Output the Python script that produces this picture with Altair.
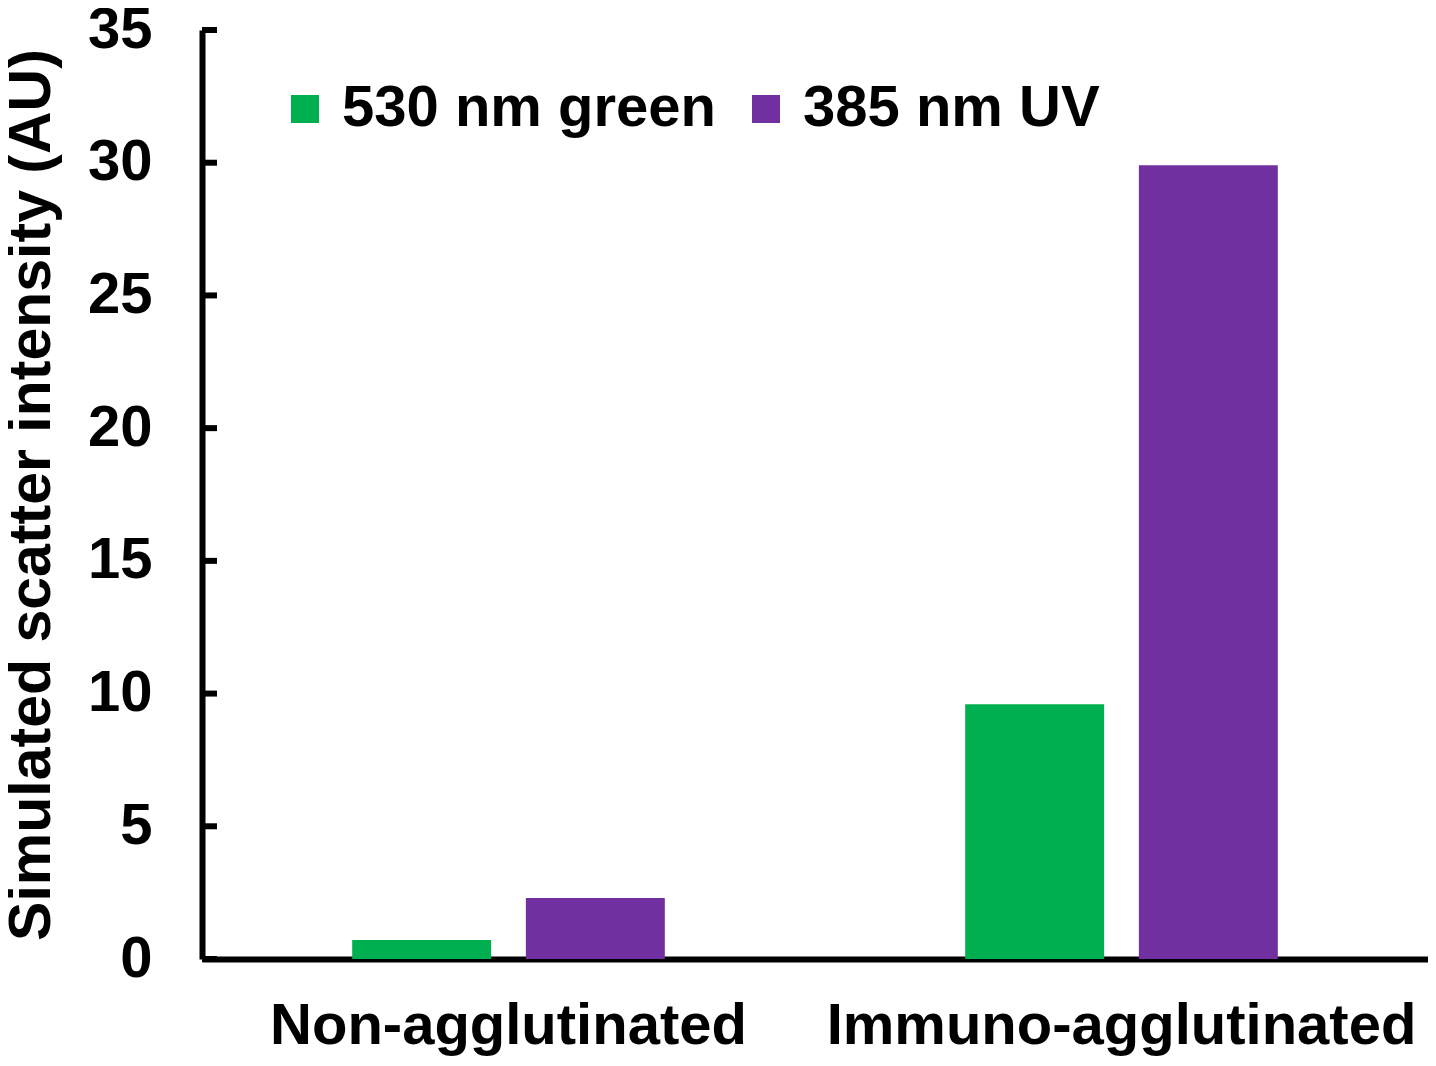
import altair as alt
import pandas as pd

categories = ["Non-agglutinated", "Immuno-agglutinated"]
series = ["530 nm green", "385 nm UV"]
green_values = [0.72, 9.6]
uv_values = [2.3, 29.9]
tick_values = [0, 5, 10, 15, 20, 25, 30, 35]
colors = ["#00B050", "#7030A0"]

rows = []
for i, c in enumerate(categories):
    rows.append({"category": c, "series": series[0], "value": green_values[i]})
    rows.append({"category": c, "series": series[1], "value": uv_values[i]})
df = pd.DataFrame(rows)
ticks_df = pd.DataFrame({"v": tick_values})

FONT = "Liberation Sans"

yscale = alt.Scale(domain=[0, 35], nice=False)

bars = alt.Chart(df).mark_bar().encode(
    x=alt.X("category:N", sort=categories,
            scale=alt.Scale(paddingInner=0.49, paddingOuter=0.245),
            axis=alt.Axis(title=None, labelAngle=0, ticks=False, domain=True,
                          domainColor="black", domainWidth=6, labelLimit=0,
                          labelFont=FONT, labelFontSize=58, labelFontWeight="bold",
                          labelColor="black", labelPadding=38)),
    xOffset=alt.XOffset("series:N", sort=series,
                        scale=alt.Scale(paddingInner=0.2, paddingOuter=0)),
    y=alt.Y("value:Q", scale=yscale,
            axis=alt.Axis(title="Simulated scatter intensity (AU)", values=tick_values,
                          ticks=False, grid=False, domainColor="black", domainWidth=6,
                          labelFont=FONT, labelFontSize=58, labelFontWeight="bold",
                          labelColor="black", labelPadding=50, labelLimit=0,
                          titleFont=FONT, titleFontSize=59, titleFontWeight="bold",
                          titleColor="black", titlePadding=26, titleLimit=2000)),
    color=alt.Color("series:N", sort=series,
                    scale=alt.Scale(domain=series, range=colors),
                    legend=alt.Legend(title=None, orient="none", direction="horizontal",
                                      legendX=74, legendY=50, padding=0,
                                      symbolType="square", symbolSize=784,
                                      symbolStrokeWidth=0, labelLimit=0,
                                      labelFont=FONT, labelFontSize=58,
                                      labelFontWeight="bold", labelColor="black",
                                      labelOffset=8, columnPadding=21)),
)

ticks = alt.Chart(ticks_df).mark_rule(color="black", strokeWidth=6).encode(
    y=alt.Y("v:Q", scale=yscale),
    x=alt.value(0),
    x2=alt.value(15),
)

chart = alt.layer(bars, ticks).properties(
    width=1226, height=929,
    autosize=alt.AutoSizeParams(type="none"),
    padding={"left": 194, "top": 22, "right": 0, "bottom": 100},
).configure_view(stroke=None).configure_axis(grid=False)

chart.save("out.html", embed_options={"renderer": "svg", "actions": False})
